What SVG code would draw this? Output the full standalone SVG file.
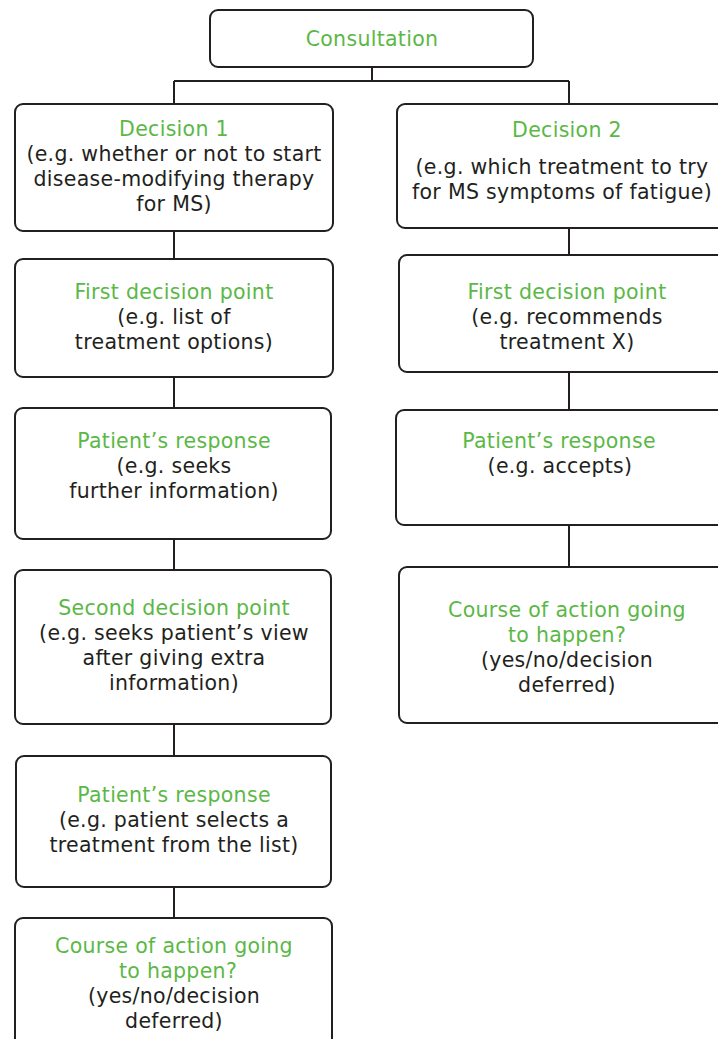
<svg xmlns="http://www.w3.org/2000/svg" width="718" height="1039" viewBox="0 0 718 1039">
<style>
.box{fill:#fff;stroke:#231f20;stroke-width:2}
.ln{fill:none;stroke:#231f20;stroke-width:2}
text{font-family:"DejaVu Sans","Open Sans",sans-serif;font-size:20.5px;letter-spacing:0.3px;text-anchor:middle}
.g{fill:#5bb846}
.d{fill:#231f20}
</style>
<rect width="718" height="1039" fill="#fff"/>
<g id="connectors">
<path class="ln" d="M372 67V81M174 81H569M174 81V104M569 81V104"/>
<path class="ln" d="M174 231V259M174 377V408M174 539V570M174 724V756M174 887V918"/>
<path class="ln" d="M569 228V255M569 372V410M569 525V567"/>
</g>
<g id="consultation"><rect class="box" x="210" y="10" width="323" height="57" rx="8"/><text class="g" x="372" y="46">Consultation</text></g>
<g id="decision1"><rect class="box" x="15" y="104" width="318" height="127" rx="8"/>
<text class="g" x="174" y="136">Decision 1</text>
<text class="d" x="174" y="161">(e.g. whether or not to start</text>
<text class="d" x="174" y="186">disease-modifying therapy</text>
<text class="d" x="174" y="211">for MS)</text></g>
<g id="first-left"><rect class="box" x="15" y="259" width="318" height="118" rx="8"/>
<text class="g" x="174" y="299">First decision point</text>
<text class="d" x="174" y="324">(e.g. list of</text>
<text class="d" x="174" y="349">treatment options)</text></g>
<g id="response1-left"><rect class="box" x="15" y="408" width="316" height="131" rx="8"/>
<text class="g" x="174" y="448">Patient’s response</text>
<text class="d" x="174" y="473">(e.g. seeks</text>
<text class="d" x="174" y="498">further information)</text></g>
<g id="second-left"><rect class="box" x="15" y="570" width="316" height="154" rx="8"/>
<text class="g" x="174" y="615">Second decision point</text>
<text class="d" x="174" y="640">(e.g. seeks patient’s view</text>
<text class="d" x="174" y="665">after giving extra</text>
<text class="d" x="174" y="690">information)</text></g>
<g id="response2-left"><rect class="box" x="16" y="756" width="315" height="131" rx="8"/>
<text class="g" x="174" y="802">Patient’s response</text>
<text class="d" x="174" y="827">(e.g. patient selects a</text>
<text class="d" x="174" y="852">treatment from the list)</text></g>
<g id="course-left"><rect class="box" x="15" y="918" width="317" height="130" rx="8"/>
<text class="g" x="174" y="953">Course of action going</text>
<text class="g" x="178" y="978">to happen?</text>
<text class="d" x="174" y="1003">(yes/no/decision</text>
<text class="d" x="174" y="1028">deferred)</text></g>
<g id="decision2"><rect class="box" x="397" y="104" width="340" height="124" rx="8"/>
<text class="g" x="567" y="137">Decision 2</text>
<text class="d" x="562" y="174">(e.g. which treatment to try</text>
<text class="d" x="562" y="199">for MS symptoms of fatigue)</text></g>
<g id="first-right"><rect class="box" x="399" y="255" width="340" height="117" rx="8"/>
<text class="g" x="567" y="299">First decision point</text>
<text class="d" x="567" y="324">(e.g. recommends</text>
<text class="d" x="567" y="349">treatment X)</text></g>
<g id="response-right"><rect class="box" x="396" y="410" width="340" height="115" rx="8"/>
<text class="g" x="559" y="448">Patient’s response</text>
<text class="d" x="560" y="473">(e.g. accepts)</text></g>
<g id="course-right"><rect class="box" x="399" y="567" width="340" height="156" rx="8"/>
<text class="g" x="567" y="617">Course of action going</text>
<text class="g" x="567" y="642">to happen?</text>
<text class="d" x="567" y="667">(yes/no/decision</text>
<text class="d" x="567" y="692">deferred)</text></g>
</svg>
